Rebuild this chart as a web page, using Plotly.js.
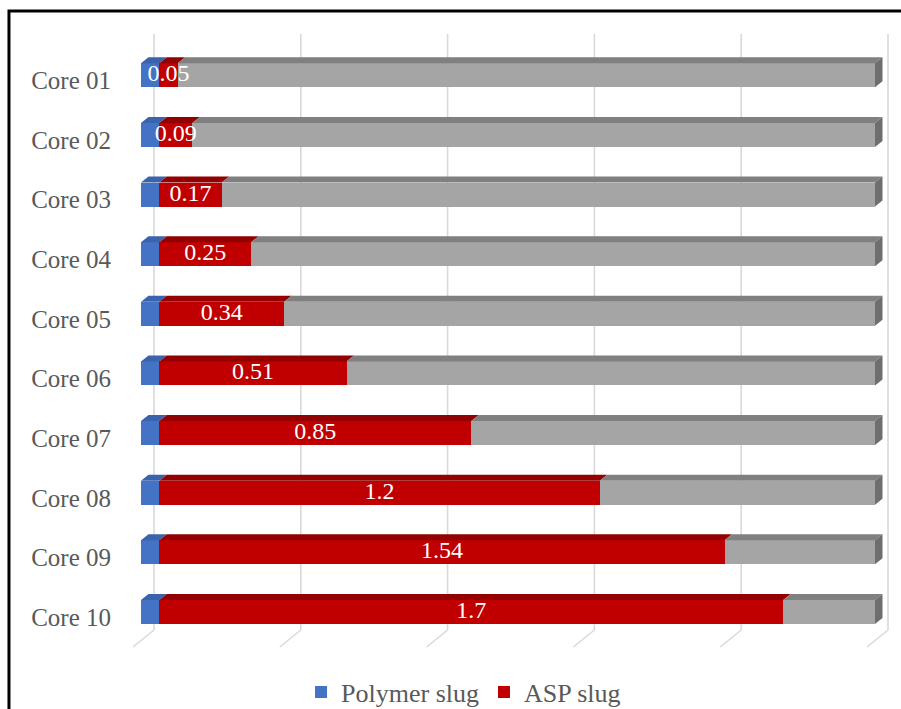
<!DOCTYPE html>
<html>
<head>
<meta charset="utf-8">
<script src="https://cdn.plot.ly/plotly-3.0.1.min.js"></script>
<style>
  html, body { margin: 0; padding: 0; background: #ffffff; }
  #chart { width: 901px; height: 709px; }
</style>
</head>
<body>
<div id="chart"></div>
<script>
// Slug sizes per core (stacked: polymer, ASP, remaining)
const cores = ['Core 01', 'Core 02', 'Core 03', 'Core 04', 'Core 05',
               'Core 06', 'Core 07', 'Core 08', 'Core 09', 'Core 10'];
const polymerSlug = [0.05, 0.05, 0.05, 0.05, 0.05, 0.05, 0.05, 0.05, 0.05, 0.05];
const aspSlug     = [0.05, 0.09, 0.17, 0.25, 0.34, 0.51, 0.85, 1.2, 1.54, 1.7];
const remainder   = [1.90, 1.86, 1.78, 1.70, 1.61, 1.44, 1.10, 0.75, 0.41, 0.25];
const gridValues  = [0, 0.4, 0.8, 1.2, 1.6, 2.0];

const colors = {
  polymer: '#4472C4', polymerTop: '#3B62AC',
  asp: '#C00000', aspTop: '#930000',
  rest: '#A5A5A5', restTop: '#808080', restSide: '#6E6E6E'
};

const FONT = 'Liberation Serif, Times New Roman, serif';
const idx = cores.map((_, i) => i);

// bar geometry (category units / value units) for the 3-D look
const BAR_W = 0.4025;
const half = BAR_W / 2;
const DX = 0.0204;   // depth offset along x
const DY = 0.1006;   // depth offset along y

function traceBar(name, values, color, show) {
  return {
    type: 'bar', orientation: 'h', name: name,
    x: values, y: idx, width: BAR_W,
    marker: { color: color, line: { width: 0 } },
    showlegend: show, hoverinfo: 'x+name'
  };
}

// top faces of each segment, built from the stacked values
function topFaces(starts, values, color) {
  const xs = [], ys = [];
  values.forEach((v, i) => {
    const s = starts[i], e = s + v;
    const t = i - half;
    xs.push(s, e, e + DX, s + DX, s, null);
    ys.push(t, t, t - DY, t - DY, t, null);
  });
  return {
    type: 'scatter', mode: 'lines', x: xs, y: ys, fill: 'toself',
    fillcolor: color, line: { width: 0, color: color },
    showlegend: false, hoverinfo: 'skip'
  };
}

// end face on the right of the last segment
function endFaces(starts, values, color) {
  const xs = [], ys = [];
  values.forEach((v, i) => {
    const e = starts[i] + v;
    const t = i - half, b = i + half;
    xs.push(e, e, e + DX, e + DX, e, null);
    ys.push(t, b, b - DY, t - DY, t, null);
  });
  return {
    type: 'scatter', mode: 'lines', x: xs, y: ys, fill: 'toself',
    fillcolor: color, line: { width: 0, color: color },
    showlegend: false, hoverinfo: 'skip'
  };
}

const polyStart = idx.map(() => 0);
const aspStart = polymerSlug.slice();
const restStart = polymerSlug.map((p, i) => p + aspSlug[i]);

const labelTrace = {
  type: 'scatter', mode: 'text',
  x: aspSlug.map((v, i) => aspStart[i] + v / 2),
  y: idx,
  text: aspSlug.map(v => String(v)),
  textposition: 'middle center',
  textfont: { family: FONT, size: 24, color: '#ffffff' },
  showlegend: false, hoverinfo: 'skip', cliponaxis: false
};

const data = [
  traceBar('Polymer slug', polymerSlug, colors.polymer, true),
  traceBar('ASP slug', aspSlug, colors.asp, true),
  traceBar('Remaining', remainder, colors.rest, false),
  topFaces(polyStart, polymerSlug, colors.polymerTop),
  topFaces(aspStart, aspSlug, colors.aspTop),
  topFaces(restStart, remainder, colors.restTop),
  endFaces(restStart, remainder, colors.restSide),
  labelTrace
];

// back-wall gridlines plus the slanted floor strokes
const shapes = [];
gridValues.forEach(g => {
  shapes.push({
    type: 'line', layer: 'below',
    xref: 'x', xsizemode: 'pixel', xanchor: g, x0: 13, x1: 13,
    yref: 'paper', y0: 0, y1: 1,
    line: { color: '#D9D9D9', width: 1.6 }
  });
  shapes.push({
    type: 'line', layer: 'below',
    xref: 'x', xsizemode: 'pixel', xanchor: g, x0: 13, x1: -8,
    yref: 'paper', ysizemode: 'pixel', yanchor: 0, y0: 0, y1: -17,
    line: { color: '#D9D9D9', width: 1.6 }
  });
});
// outer frame
shapes.push({
  type: 'rect', layer: 'above', xref: 'paper', yref: 'paper',
  x0: -0.1582, x1: 1.02, y0: 1.0386, y1: -0.16,
  line: { color: '#000000', width: 3 }, fillcolor: 'rgba(0,0,0,0)'
});

const layout = {
  width: 901, height: 709,
  margin: { l: 130, r: 6, t: 34, b: 79, pad: 0, autoexpand: false },
  paper_bgcolor: '#ffffff', plot_bgcolor: 'rgba(0,0,0,0)',
  barmode: 'stack', bargap: 0,
  showlegend: true,
  xaxis: {
    range: [-0.02997, 2.0545], showgrid: false, zeroline: false,
    showticklabels: false, showline: false, ticks: '', fixedrange: true
  },
  yaxis: {
    range: [9.302, -0.693], tickmode: 'array',
    tickvals: idx.map(i => i + 0.085), ticktext: cores,
    showgrid: false, zeroline: false, showline: false, ticks: '',
    ticklabelstandoff: 18,
    tickfont: { family: FONT, size: 25, color: '#595959' }
  },
  legend: {
    orientation: 'h', x: 0.436, xanchor: 'center', y: -0.104, yanchor: 'middle',
    font: { family: FONT, size: 26, color: '#595959' },
    bgcolor: 'rgba(0,0,0,0)', traceorder: 'normal'
  },
  shapes: shapes
};

Plotly.newPlot('chart', data, layout, { displayModeBar: false, staticPlot: true });
</script>
</body>
</html>
